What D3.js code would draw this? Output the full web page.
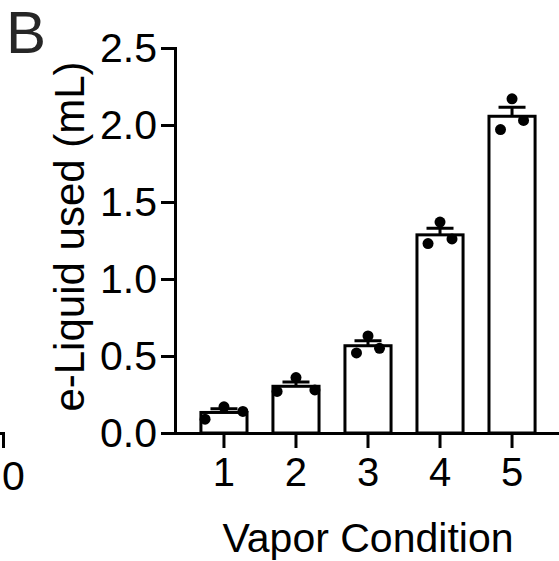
<!DOCTYPE html>
<meta charset="utf-8">
<style>

    body { margin: 0; background: #fff; }

    svg text {
        font-family: "Liberation Sans", Arial, sans-serif;
        fill: #000;
    }

    .axis path, .axis line {
        stroke: #000;
        stroke-width: 3px;
    }

    .bar {
        fill: #fff;
        stroke: #000;
        stroke-width: 3px;
    }

    .err {
        stroke: #000;
        stroke-width: 3px;
        fill: none;
    }

</style>
<svg width="559" height="561"></svg>
<script src="https://cdn.jsdelivr.net/npm/d3@7"></script>
<script>

    // vapor conditions and the three replicates (left, middle, right dot)
    var conditions = ["1", "2", "3", "4", "5"];
    var rep1 = [0.09, 0.27, 0.52, 1.23, 1.97];
    var rep2 = [0.17, 0.36, 0.63, 1.37, 2.17];
    var rep3 = [0.14, 0.28, 0.55, 1.26, 2.03];
    var yTicks = [0, 0.5, 1.0, 1.5, 2.0, 2.5];
    // how far the dots spread, as a fraction of the bar width
    var spread = [0.41, 0.41, 0.25, 0.26, 0.25];

    var svg = d3.select("svg"),
        margin = {top: 48, right: -2, bottom: 128, left: 175},
        width = svg.attr("width") - margin.left - margin.right,
        height = svg.attr("height") - margin.top - margin.bottom,
        g = svg.append("g").attr("transform", "translate(" + margin.left + "," + margin.top + ")");

    var data = conditions.map(function(c, i) {
        var vals = [rep1[i], rep2[i], rep3[i]];
        return {
            id: c,
            vals: vals,
            mean: d3.mean(vals),
            sem: d3.deviation(vals) / Math.sqrt(vals.length),
            spread: spread[i]
        };
    });

    var x = d3.scaleBand().domain(conditions).range([0, width]).paddingInner(0.36).paddingOuter(0.36),
        y = d3.scaleLinear().domain([0, 2.5]).range([height, 0]);

    // x axis
    g.append("g")
        .attr("class", "axis axis--x")
        .attr("transform", "translate(0," + height + ")")
        .call(d3.axisBottom(x).tickSize(15).tickSizeOuter(0).tickPadding(10))
        .call(function(a) { a.selectAll("text").style("font-size", "40px"); });

    // y axis
    g.append("g")
        .attr("class", "axis axis--y")
        .call(d3.axisLeft(y).tickValues(yTicks).tickFormat(d3.format(".1f")).tickSize(14).tickSizeOuter(0).tickPadding(4))
        .call(function(a) {
            a.selectAll("text").style("font-size", "41px");
            a.select(".domain").attr("stroke-linecap", "square");
        });

    var grp = g.selectAll(".cond")
        .data(data)
        .enter().append("g")
        .attr("class", "cond");

    grp.append("rect")
        .attr("class", "bar")
        .attr("x", function(d) { return x(d.id); })
        .attr("width", x.bandwidth())
        .attr("y", function(d) { return y(d.mean); })
        .attr("height", function(d) { return height - y(d.mean); });

    // SEM, upper half only
    grp.append("path")
        .attr("class", "err")
        .attr("d", function(d) {
            var cx = x(d.id) + x.bandwidth() / 2,
                hi = y(d.mean + d.sem);
            return "M" + cx + "," + y(d.mean) + "V" + hi + "M" + (cx - 13.5) + "," + hi + "H" + (cx + 13.5);
        });

    grp.selectAll("circle")
        .data(function(d) {
            return d.vals.map(function(v, k) {
                return {id: d.id, v: v, off: (k - 1) * d.spread};
            });
        })
        .enter().append("circle")
        .attr("cx", function(d) { return x(d.id) + x.bandwidth() / 2 + d.off * x.bandwidth(); })
        .attr("cy", function(d) { return y(d.v); })
        .attr("r", 5.5)
        .attr("fill", "#000");

    // axis titles
    g.append("text")
        .attr("transform", "translate(" + (-91) + "," + (height / 2 - 4) + ") rotate(-90)")
        .attr("text-anchor", "middle")
        .style("font-size", "42px")
        .text("e-Liquid used (mL)");

    g.append("text")
        .attr("x", width / 2)
        .attr("y", height + 119)
        .attr("text-anchor", "middle")
        .style("font-size", "41px")
        .text("Vapor Condition");

    // panel letter
    svg.append("text")
        .attr("x", 6)
        .attr("y", 53)
        .style("font-size", "60px")
        .style("fill", "#262626")
        .text("B");

    // edge of the neighbouring panel
    svg.append("path")
        .attr("d", "M-10,433.5H3.5V448")
        .attr("fill", "none")
        .attr("stroke", "#000")
        .attr("stroke-width", 3);

    svg.append("text")
        .attr("x", 2)
        .attr("y", 490)
        .style("font-size", "41px")
        .text("0");

</script>
